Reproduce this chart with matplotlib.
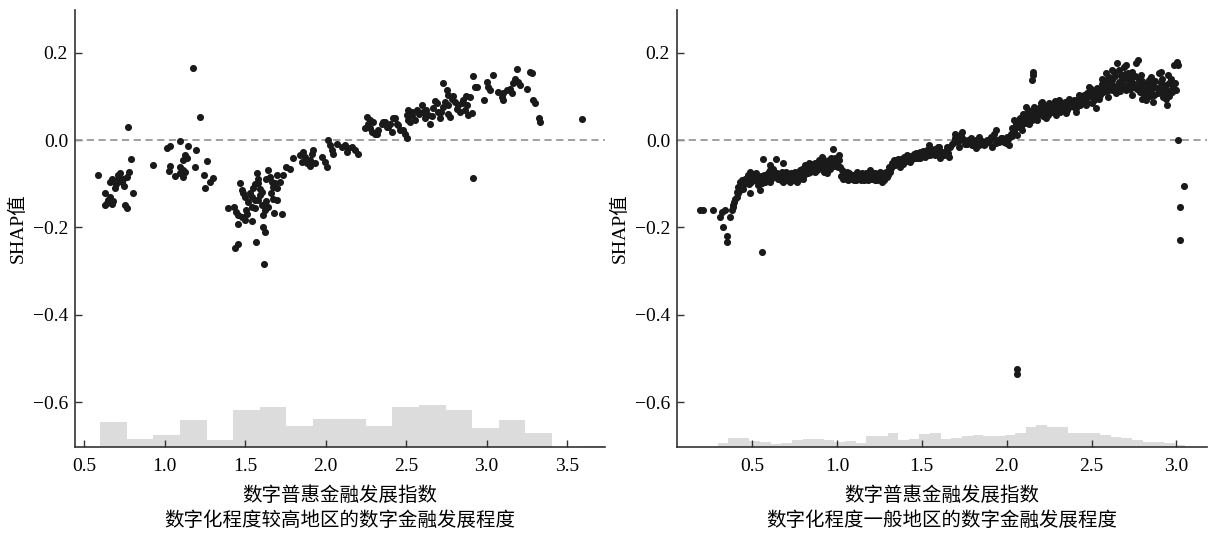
import matplotlib.pyplot as plt
import numpy as np

plt.rcParams['font.family'] = ['Liberation Serif', 'Noto Sans CJK SC']
plt.rcParams['axes.unicode_minus'] = True

# 数字化程度较高地区: (数字普惠金融发展指数, SHAP值)
high_pts = [
    (1.177, 0.166), (1.219, 0.054), (0.771, 0.030), (1.096, -0.002), (1.013, -0.017), (1.034, -0.014),
    (1.148, -0.014), (1.196, -0.023), (1.127, -0.034), (1.138, -0.040), (1.117, -0.046), (1.266, -0.047),
    (0.792, -0.044), (0.927, -0.058), (1.034, -0.060), (1.030, -0.070), (1.096, -0.061), (1.113, -0.069),
    (1.127, -0.073), (1.096, -0.076), (1.189, -0.061), (1.065, -0.082), (1.117, -0.084), (1.245, -0.079),
    (1.303, -0.086), (1.283, -0.095), (1.252, -0.109), (0.587, -0.079), (0.724, -0.076), (0.781, -0.073),
    (0.765, -0.084), (0.713, -0.088), (0.734, -0.095), (0.699, -0.101), (0.672, -0.088), (0.661, -0.095),
    (0.630, -0.121), (0.806, -0.121), (0.657, -0.136), (0.682, -0.139), (0.641, -0.145), (0.672, -0.147),
    (0.630, -0.149), (0.755, -0.149), (0.765, -0.156),
    (0.745, -0.090), (0.708, -0.080), (0.690, -0.110), (0.750, -0.105), (0.664, -0.130), (0.648, -0.138),
    (1.393, -0.156), (1.434, -0.153), (1.442, -0.164), (1.459, -0.172), (1.479, -0.177), (1.500, -0.182),
    (1.454, -0.191), (1.545, -0.185), (1.469, -0.099), (1.479, -0.115), (1.490, -0.122), (1.500, -0.130),
    (1.520, -0.141), (1.541, -0.153), (1.562, -0.156), (1.531, -0.122), (1.545, -0.130), (1.562, -0.137),
    (1.572, -0.076), (1.578, -0.088), (1.583, -0.099), (1.593, -0.111), (1.603, -0.118), (1.645, -0.069),
    (1.655, -0.084), (1.666, -0.095), (1.676, -0.107), (1.697, -0.080), (1.717, -0.095), (1.686, -0.099),
    (1.583, -0.137), (1.603, -0.149), (1.624, -0.160), (1.614, -0.172), (1.645, -0.153), (1.676, -0.134),
    (1.697, -0.137), (1.682, -0.167), (1.727, -0.170), (1.614, -0.199), (1.624, -0.210), (1.566, -0.233),
    (1.438, -0.248), (1.459, -0.238), (1.618, -0.284),
    (1.505, -0.160), (1.515, -0.170), (1.550, -0.110), (1.560, -0.100), (1.590, -0.125), (1.630, -0.140),
    (1.660, -0.120), (1.700, -0.110), (1.735, -0.080), (1.630, -0.090),
    (1.752, -0.061), (1.779, -0.065), (1.800, -0.040),
    (1.842, -0.034), (1.862, -0.027), (1.873, -0.038), (1.852, -0.050), (1.883, -0.053), (1.904, -0.046),
    (1.914, -0.031), (1.924, -0.023), (1.904, -0.060), (1.935, -0.053), (1.976, -0.038), (1.997, -0.050),
    (2.007, -0.061), (2.018, 0.000), (2.028, -0.011), (2.038, -0.023), (2.049, -0.031), (2.069, -0.008),
    (2.100, -0.015), (2.121, -0.011), (2.141, -0.019), (2.162, -0.015), (2.183, -0.023), (2.204, -0.031),
    (2.131, -0.027), (2.256, 0.053), (2.266, 0.038), (2.276, 0.027), (2.287, 0.019), (2.307, 0.015),
    (2.328, 0.023), (2.349, 0.038), (2.370, 0.042), (2.390, 0.031), (2.411, 0.019), (2.432, 0.050),
    (2.442, 0.038), (2.463, 0.023), (2.494, 0.015), (2.504, 0.004), (2.514, 0.046), (2.504, 0.057),
    (2.276, 0.046), (2.297, 0.042), (2.245, 0.027), (2.318, 0.015), (2.359, 0.042), (2.380, 0.031),
    (2.401, 0.038), (2.421, 0.050), (2.452, 0.034), (2.483, 0.023), (2.514, 0.069), (2.535, 0.057),
    (2.525, 0.042), (2.556, 0.046), (2.566, 0.069), (2.597, 0.080), (2.607, 0.065), (2.618, 0.050),
    (2.638, 0.057), (2.649, 0.038), (2.669, 0.073), (2.690, 0.084), (2.700, 0.065), (2.711, 0.050),
    (2.731, 0.076), (2.742, 0.088), (2.731, 0.130), (2.752, 0.115), (2.763, 0.103), (2.783, 0.095),
    (2.804, 0.088), (2.773, 0.053), (2.825, 0.080), (2.835, 0.065), (2.856, 0.092), (2.866, 0.069),
    (2.877, 0.080), (2.887, 0.057), (2.898, 0.099), (2.908, 0.061), (2.918, 0.147), (2.928, 0.122),
    (2.540, 0.065), (2.580, 0.060), (2.625, 0.070), (2.660, 0.055), (2.680, 0.090), (2.720, 0.065),
    (2.760, 0.080), (2.790, 0.100), (2.815, 0.072), (2.845, 0.085), (2.870, 0.100), (2.760, 0.060),
    (2.943, 0.122), (2.984, 0.093), (3.001, 0.134), (3.011, 0.122), (3.022, 0.115), (3.038, 0.149),
    (3.074, 0.111), (3.094, 0.099), (3.105, 0.107), (3.125, 0.115), (3.146, 0.118), (3.156, 0.107),
    (3.166, 0.130), (3.177, 0.141), (3.187, 0.164), (3.197, 0.134), (3.208, 0.126), (3.105, 0.093),
    (3.249, 0.118), (3.270, 0.156), (3.280, 0.153), (3.291, 0.092), (3.301, 0.084), (3.328, 0.050),
    (3.332, 0.042), (3.591, 0.048), (2.914, -0.086),
]

# 数字化程度一般地区
mid_pts = [
    (0.193, -0.160), (0.213, -0.159), (0.268, -0.159), (0.311, -0.176), (0.321, -0.164), (0.341, -0.159),
    (0.370, -0.176), (0.380, -0.160), (0.327, -0.200), (0.351, -0.220), (0.354, -0.233), (0.557, -0.256),
    (0.390, -0.149), (0.400, -0.134), (0.409, -0.118), (0.419, -0.107), (0.429, -0.095), (0.439, -0.092),
    (0.459, -0.088), (0.478, -0.080), (0.488, -0.073), (0.508, -0.092), (0.528, -0.088), (0.547, -0.095),
    (0.567, -0.088), (0.587, -0.084), (0.606, -0.069), (0.616, -0.076), (0.626, -0.065),
    (0.409, -0.130), (0.429, -0.115), (0.449, -0.111), (0.488, -0.122), (0.547, -0.115), (0.606, -0.095),
    (0.567, -0.044), (0.642, -0.044), (0.606, -0.057), (0.681, -0.052), (0.600, -0.073),
    (0.394, -0.141), (0.386, -0.153), (0.419, -0.122), (0.445, -0.099), (0.469, -0.095), (0.498, -0.084),
    (0.518, -0.080), (0.537, -0.103), (0.557, -0.099), (0.577, -0.095), (0.596, -0.092), (0.626, -0.084),
    (0.646, -0.076),
    (0.455, -0.100), (0.470, -0.086), (0.483, -0.100), (0.495, -0.095), (0.503, -0.078), (0.515, -0.092),
    (0.525, -0.076), (0.533, -0.092), (0.552, -0.083), (0.562, -0.094), (0.572, -0.080), (0.582, -0.092),
    (0.592, -0.076), (0.612, -0.088), (0.621, -0.072), (0.636, -0.080), (0.655, -0.090),
    (0.665, -0.084), (0.695, -0.092), (0.714, -0.080), (0.734, -0.088), (0.754, -0.073), (0.774, -0.084),
    (0.793, -0.065), (0.813, -0.057), (0.833, -0.053), (0.852, -0.061), (0.872, -0.053), (0.892, -0.046),
    (0.911, -0.038), (0.931, -0.061), (0.941, -0.076), (0.951, -0.046), (0.970, -0.053), (0.974, -0.021),
    (0.990, -0.042), (1.010, -0.034), (1.019, -0.061),
    (0.685, -0.095), (0.724, -0.095), (0.764, -0.095), (0.803, -0.088), (0.842, -0.073), (0.882, -0.069),
    (0.921, -0.073), (0.675, -0.073), (0.705, -0.080), (0.744, -0.076), (0.783, -0.069), (0.823, -0.069),
    (0.862, -0.065), (0.901, -0.057), (0.921, -0.050), (0.960, -0.065), (1.000, -0.053),
    (0.670, -0.092), (0.690, -0.084), (0.700, -0.072), (0.710, -0.092), (0.720, -0.084), (0.730, -0.076),
    (0.740, -0.092), (0.750, -0.084), (0.760, -0.076), (0.770, -0.092), (0.780, -0.078), (0.790, -0.086),
    (0.800, -0.072), (0.808, -0.080), (0.818, -0.062), (0.828, -0.076), (0.838, -0.060), (0.848, -0.070),
    (0.858, -0.054), (0.868, -0.072), (0.878, -0.060), (0.888, -0.066), (0.898, -0.050), (0.906, -0.064),
    (0.916, -0.044), (0.926, -0.066), (0.936, -0.055), (0.946, -0.066), (0.956, -0.056), (0.966, -0.042),
    (0.980, -0.060), (0.995, -0.050), (1.005, -0.062), (1.015, -0.045),
    (1.039, -0.080), (1.059, -0.088), (1.079, -0.084), (1.098, -0.092), (1.118, -0.080), (1.138, -0.088),
    (1.157, -0.092), (1.177, -0.084), (1.197, -0.073), (1.216, -0.084), (1.236, -0.092), (1.256, -0.080),
    (1.275, -0.088), (1.295, -0.084), (1.315, -0.073), (1.324, -0.053), (1.334, -0.046),
    (1.059, -0.073), (1.118, -0.073), (1.197, -0.069), (1.275, -0.076), (1.305, -0.061),
    (1.029, -0.069), (1.089, -0.080), (1.148, -0.076), (1.187, -0.088), (1.226, -0.076), (1.246, -0.084),
    (1.285, -0.080), (1.266, -0.095),
    (1.025, -0.082), (1.035, -0.090), (1.045, -0.076), (1.055, -0.082), (1.068, -0.092), (1.074, -0.076),
    (1.085, -0.090), (1.094, -0.080), (1.105, -0.086), (1.112, -0.092), (1.125, -0.088), (1.132, -0.078),
    (1.143, -0.092), (1.152, -0.082), (1.165, -0.088), (1.170, -0.076), (1.182, -0.092), (1.192, -0.080),
    (1.205, -0.088), (1.210, -0.076), (1.222, -0.092), (1.231, -0.082), (1.241, -0.090), (1.251, -0.074),
    (1.262, -0.086), (1.270, -0.080), (1.280, -0.092), (1.290, -0.072), (1.300, -0.080), (1.310, -0.066),
    (1.320, -0.064), (1.330, -0.058),
    (1.354, -0.046), (1.374, -0.053), (1.393, -0.038), (1.413, -0.034), (1.433, -0.042), (1.452, -0.031),
    (1.472, -0.034), (1.492, -0.027), (1.511, -0.031), (1.531, -0.023), (1.551, -0.019), (1.570, -0.027),
    (1.590, -0.021), (1.541, -0.011), (1.374, -0.061), (1.433, -0.050), (1.492, -0.042), (1.551, -0.034),
    (1.344, -0.057), (1.403, -0.046), (1.462, -0.042), (1.521, -0.038), (1.580, -0.034), (1.600, -0.015),
    (1.350, -0.055), (1.360, -0.044), (1.368, -0.050), (1.380, -0.044), (1.388, -0.054), (1.398, -0.042),
    (1.408, -0.040), (1.418, -0.048), (1.426, -0.036), (1.440, -0.044), (1.447, -0.036), (1.458, -0.040),
    (1.467, -0.030), (1.478, -0.040), (1.486, -0.032), (1.498, -0.036), (1.505, -0.024), (1.516, -0.034),
    (1.526, -0.028), (1.536, -0.034), (1.546, -0.026), (1.560, -0.030), (1.575, -0.020), (1.585, -0.030),
    (1.595, -0.016),
    (1.551, -0.023), (1.590, -0.027), (1.629, -0.034), (1.659, -0.038), (1.669, -0.015), (1.689, -0.004),
    (1.708, 0.008), (1.728, 0.015), (1.748, 0.000), (1.767, -0.008), (1.787, 0.004), (1.807, 0.000),
    (1.826, -0.008), (1.846, -0.004), (1.866, -0.011), (1.885, 0.000), (1.905, 0.008), (1.925, 0.015),
    (1.944, 0.000), (1.964, 0.004), (1.984, -0.004), (2.003, 0.008), (2.023, 0.015), (2.033, 0.027),
    (1.620, -0.028), (1.640, -0.024), (1.655, -0.030), (1.675, -0.008), (1.695, 0.004), (1.715, -0.004),
    (1.735, 0.004), (1.755, -0.008), (1.775, 0.000), (1.795, -0.010), (1.815, -0.004), (1.835, -0.012),
    (1.855, -0.002), (1.875, -0.008), (1.895, -0.004), (1.915, 0.004), (1.935, -0.006), (1.955, -0.004),
    (1.975, 0.006), (1.995, -0.006), (2.010, 0.002), (2.030, 0.010), (2.045, 0.020),
    (2.053, 0.038), (2.072, 0.046), (2.082, 0.031), (2.102, 0.050), (2.121, 0.057), (2.141, 0.065),
    (2.151, 0.046), (2.171, 0.061), (2.190, 0.073), (2.200, 0.084), (2.220, 0.069), (2.240, 0.065),
    (2.259, 0.073), (2.279, 0.080), (2.298, 0.088), (2.318, 0.076), (2.338, 0.069), (2.357, 0.080),
    (2.377, 0.088), (2.397, 0.076), (2.416, 0.084), (2.436, 0.095), (2.456, 0.103), (2.475, 0.107),
    (2.495, 0.118), (2.515, 0.092), (2.525, 0.073), (2.535, 0.107), (2.544, 0.095), (2.554, 0.115),
    (2.574, 0.137), (2.584, 0.153), (2.604, 0.145), (2.613, 0.130), (2.623, 0.115), (2.633, 0.157),
    (2.649, 0.177), (2.663, 0.134), (2.672, 0.149), (2.682, 0.122), (2.692, 0.141), (2.702, 0.172),
    (2.712, 0.153), (2.722, 0.130), (2.731, 0.145), (2.741, 0.157), (2.761, 0.176), (2.771, 0.183),
    (2.781, 0.137), (2.791, 0.122), (2.810, 0.103), (2.820, 0.092), (2.830, 0.130), (2.840, 0.137),
    (2.850, 0.115), (2.869, 0.122), (2.889, 0.107), (2.899, 0.153), (2.909, 0.130), (2.928, 0.118),
    (2.938, 0.095), (2.944, 0.080), (2.952, 0.149), (2.958, 0.130), (2.968, 0.115), (2.978, 0.122),
    (2.984, 0.172), (3.004, 0.179),
    (2.058, 0.030), (2.068, 0.040), (2.078, 0.050), (2.088, 0.040), (2.098, 0.060), (2.108, 0.040),
    (2.118, 0.046), (2.128, 0.066), (2.138, 0.052), (2.148, 0.070), (2.165, 0.052), (2.176, 0.072),
    (2.186, 0.058), (2.196, 0.064), (2.206, 0.078), (2.216, 0.056), (2.226, 0.078), (2.236, 0.072),
    (2.246, 0.058), (2.256, 0.082), (2.266, 0.064), (2.276, 0.070), (2.286, 0.090), (2.296, 0.068),
    (2.306, 0.080), (2.316, 0.064), (2.326, 0.084), (2.336, 0.078), (2.346, 0.088), (2.356, 0.068),
    (2.366, 0.076), (2.386, 0.080), (2.396, 0.092), (2.406, 0.074), (2.420, 0.094), (2.430, 0.080),
    (2.445, 0.088), (2.460, 0.094), (2.470, 0.090), (2.480, 0.100), (2.490, 0.104), (2.500, 0.098),
    (2.510, 0.110), (2.520, 0.102), (2.530, 0.120), (2.540, 0.118), (2.550, 0.104), (2.560, 0.128),
    (2.570, 0.110), (2.580, 0.124), (2.590, 0.112), (2.600, 0.132), (2.610, 0.116), (2.620, 0.138),
    (2.630, 0.124), (2.640, 0.146), (2.655, 0.120), (2.660, 0.160), (2.668, 0.112), (2.678, 0.140),
    (2.688, 0.126), (2.698, 0.152), (2.708, 0.120), (2.718, 0.140), (2.728, 0.116), (2.738, 0.132),
    (2.748, 0.122), (2.756, 0.146), (2.766, 0.116), (2.776, 0.128), (2.786, 0.110), (2.796, 0.136),
    (2.806, 0.118), (2.816, 0.126), (2.826, 0.110), (2.836, 0.120), (2.846, 0.102), (2.856, 0.128),
    (2.866, 0.104), (2.876, 0.136), (2.886, 0.120), (2.896, 0.110), (2.906, 0.118), (2.916, 0.140),
    (2.926, 0.104), (2.936, 0.126), (2.946, 0.112), (2.956, 0.100), (2.966, 0.140), (2.976, 0.110),
    (2.986, 0.118), (2.994, 0.130),
    (1.610, -0.042), (1.718, -0.015), (1.817, -0.019), (1.915, -0.015), (2.013, -0.011), (2.062, 0.011),
    (2.092, 0.023), (2.131, 0.038), (2.180, 0.046), (2.230, 0.050), (2.289, 0.057), (2.348, 0.061),
    (2.407, 0.065), (2.466, 0.080), (2.505, 0.084), (2.594, 0.099), (2.643, 0.107), (2.702, 0.115),
    (2.741, 0.103), (2.800, 0.095), (2.859, 0.088), (2.918, 0.099),
    (1.649, -0.015), (1.698, 0.015), (1.738, 0.019), (1.836, 0.008), (1.935, 0.023), (2.043, 0.046),
    (2.112, 0.076), (2.161, 0.076), (2.210, 0.088), (2.249, 0.084), (2.308, 0.092), (2.367, 0.095),
    (2.426, 0.103), (2.485, 0.122), (2.564, 0.141), (2.623, 0.160), (2.692, 0.168), (2.791, 0.149),
    (2.850, 0.145), (2.909, 0.157), (2.998, 0.115),
    (2.157, 0.157), (2.153, 0.149), (2.151, 0.137), (2.061, -0.523), (2.061, -0.536), (3.012, 0.000),
    (3.042, -0.104), (3.022, -0.153), (3.019, -0.228), (3.008, 0.172),
]

# 底部分布直方图 (起点, 组宽, 各组高度)
high_hist_start = 0.601
high_hist_width = 0.165
high_hist_heights = [0.056, 0.018, 0.027, 0.060, 0.016, 0.084, 0.090, 0.048, 0.063, 0.063,
                     0.048, 0.090, 0.095, 0.084, 0.042, 0.060, 0.032, 0.000, 0.0015]

mid_hist_start = 0.297
mid_hist_width = 0.0626
mid_hist_heights = [0.008, 0.019, 0.019, 0.014, 0.011, 0.006, 0.009, 0.015, 0.017, 0.018,
                    0.015, 0.011, 0.013, 0.008, 0.024, 0.024, 0.032, 0.015, 0.018, 0.028,
                    0.031, 0.018, 0.021, 0.024, 0.027, 0.025, 0.024, 0.027, 0.032, 0.044,
                    0.049, 0.044, 0.044, 0.031, 0.032, 0.031, 0.027, 0.023, 0.021, 0.015,
                    0.010, 0.011, 0.009, 0.003]

x_label = '数字普惠金融发展指数'
titles = ['数字化程度较高地区的数字金融发展程度', '数字化程度一般地区的数字金融发展程度']
y_range = (-0.702, 0.298)

fig = plt.figure(figsize=(12.15, 5.34), dpi=100)
ax_l = fig.add_axes([75 / 1215, 1 - 446.7 / 534, 530 / 1215, 436.7 / 534])
ax_r = fig.add_axes([677 / 1215, 1 - 446.7 / 534, 530 / 1215, 436.7 / 534])


def draw(ax, pts, h_start, h_width, h_heights, xlim, xticks, title):
    pts = np.array(pts)
    edges = h_start + h_width * np.arange(len(h_heights))
    ax.bar(edges, h_heights, width=h_width, align='edge', bottom=y_range[0],
           color='#dcdcdc', linewidth=0, zorder=1)
    ax.axhline(0, color='#999999', ls=(0, (4, 2.5)), lw=1.3, zorder=2)
    ax.scatter(pts[:, 0], pts[:, 1], s=26, c='#1a1a1a', linewidths=0, zorder=3)
    ax.set_xlim(*xlim)
    ax.set_ylim(*y_range)
    ax.set_xticks(xticks)
    ax.set_yticks([-0.6, -0.4, -0.2, 0.0, 0.2])
    for s in ['top', 'right']:
        ax.spines[s].set_visible(False)
    for s in ['left', 'bottom']:
        ax.spines[s].set_color('#333333')
        ax.spines[s].set_linewidth(1.2)
    ax.tick_params(direction='in', length=5, width=1, color='#333333', labelsize=14)
    ax.tick_params(axis='x', pad=8)
    ax.tick_params(axis='y', pad=5)
    ax.set_xlabel(x_label + '\n' + title, fontsize=14, linespacing=1.45, labelpad=8)
    ax.set_ylabel('SHAP值', fontsize=14, labelpad=4)


draw(ax_l, high_pts, high_hist_start, high_hist_width, high_hist_heights,
     (0.444, 3.736), [0.5, 1.0, 1.5, 2.0, 2.5, 3.0, 3.5], titles[0])
draw(ax_r, mid_pts, mid_hist_start, mid_hist_width, mid_hist_heights,
     (0.058, 3.18), [0.5, 1.0, 1.5, 2.0, 2.5, 3.0], titles[1])

fig.savefig('out.png', dpi=100)
